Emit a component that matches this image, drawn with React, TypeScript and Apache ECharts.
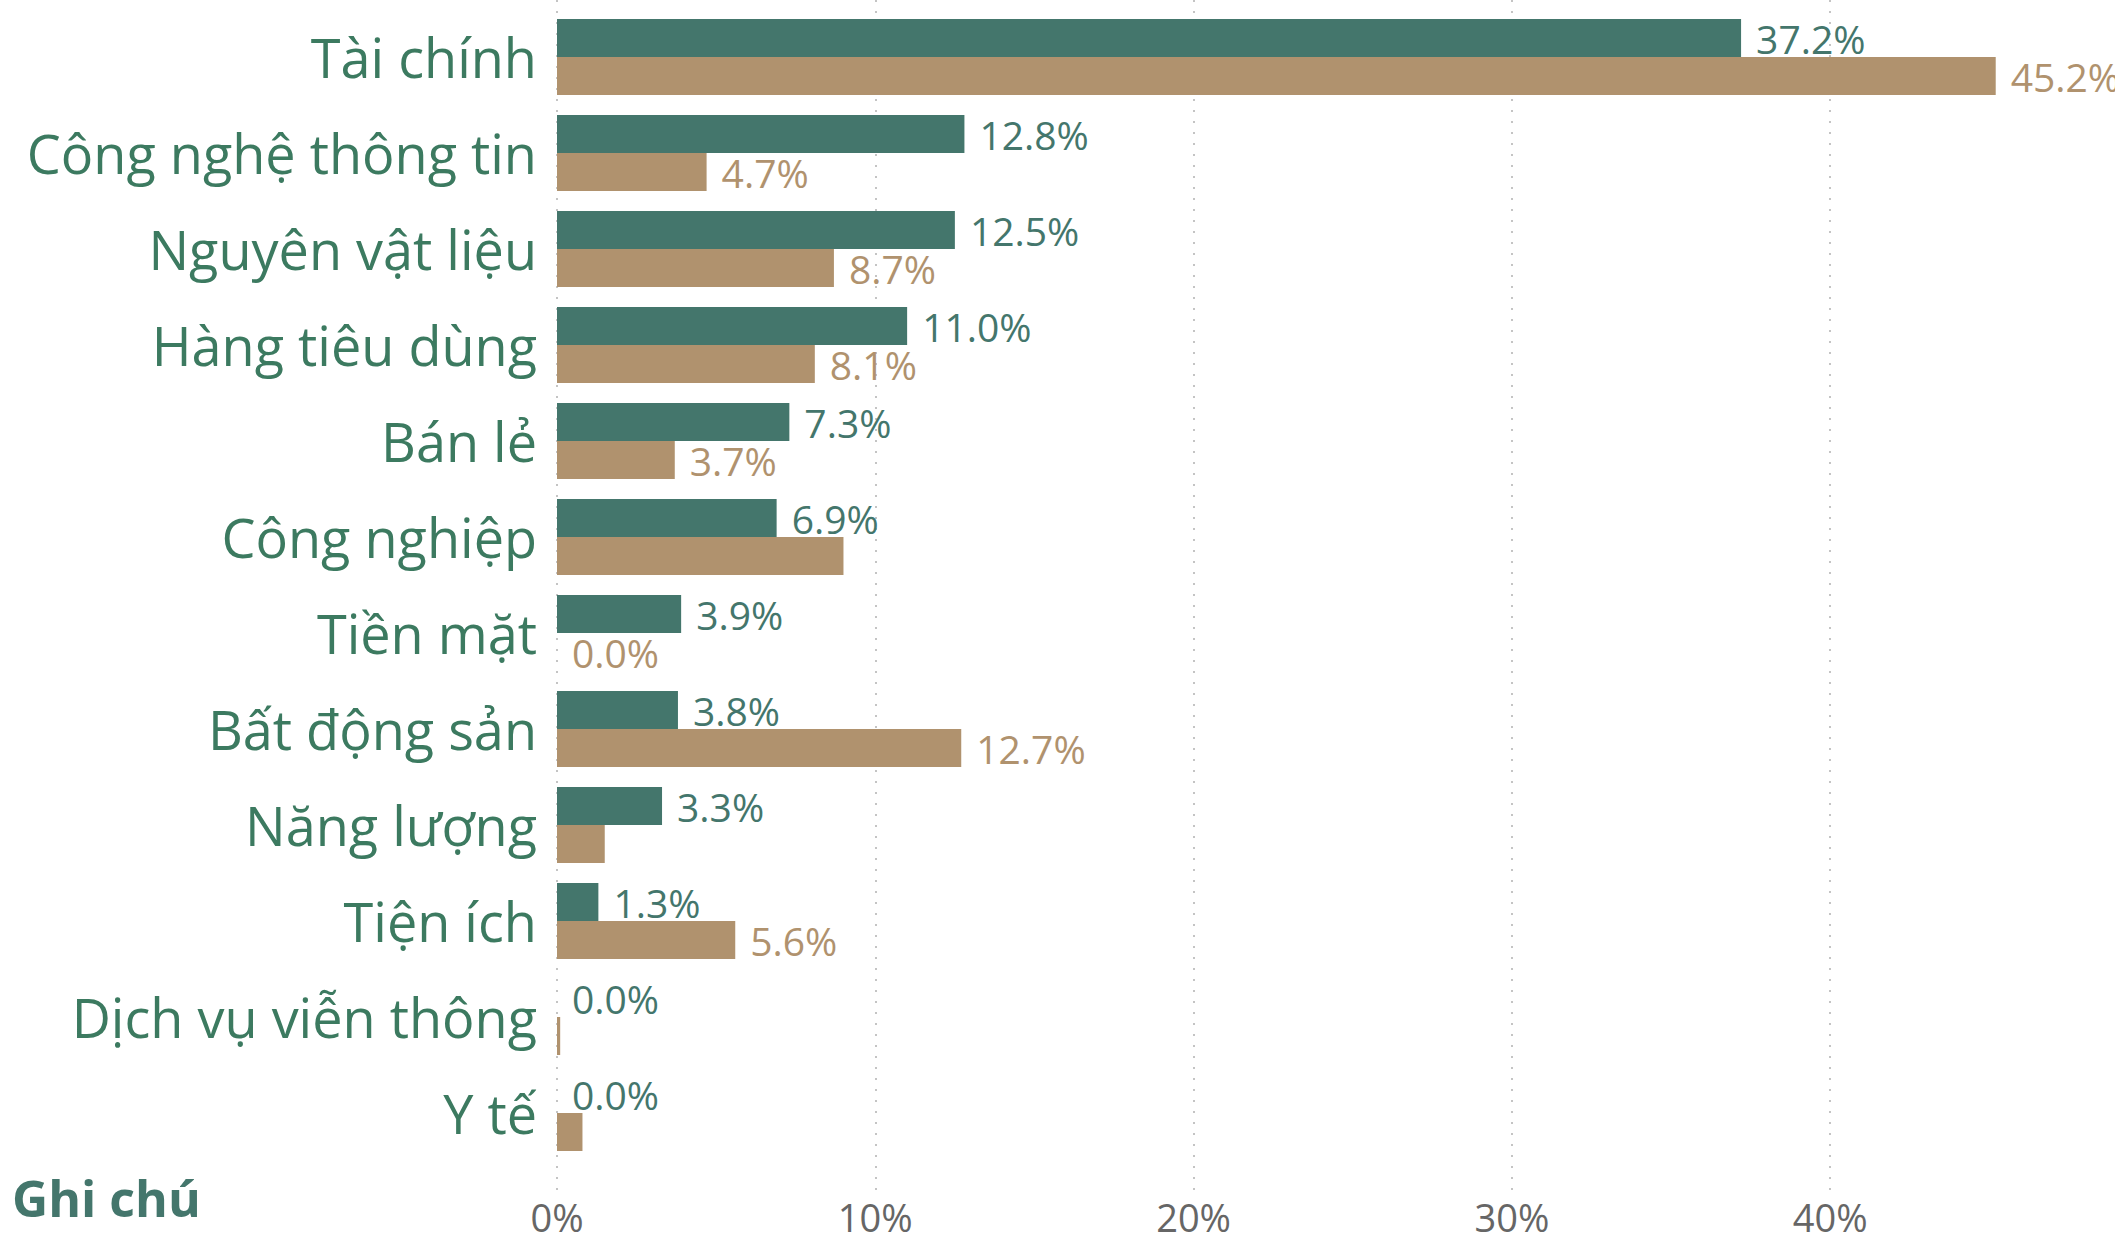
import React, { useEffect, useRef } from "react";
import * as echarts from "echarts";

const categories = [
  "Tài chính",
  "Công nghệ thông tin",
  "Nguyên vật liệu",
  "Hàng tiêu dùng",
  "Bán lẻ",
  "Công nghiệp",
  "Tiền mặt",
  "Bất động sản",
  "Năng lượng",
  "Tiện ích",
  "Dịch vụ viễn thông",
  "Y tế",
];
const seriesA = [37.2, 12.8, 12.5, 11.0, 7.3, 6.9, 3.9, 3.8, 3.3, 1.3, 0.0, 0.0];
const seriesB = [45.2, 4.7, 8.7, 8.1, 3.7, 9.0, 0.0, 12.7, 1.5, 5.6, 0.1, 0.8];
// labels that are not shown in the reference for the second series
const seriesBHiddenLabels = [5, 8, 10, 11];
const xTicks = [0, 10, 20, 30, 40, 50];
const legendTitle = "Ghi chú";

const GREEN = "#44766c";
const LABEL_GREEN = "#3c7a60";
const BROWN = "#b0926e";
const FONT = "'Open Sans', 'Noto Sans', sans-serif";

export default function App() {
  const ref = useRef<HTMLDivElement>(null);
  useEffect(() => {
    if (!ref.current) return;
    const chart = echarts.init(ref.current, undefined, { renderer: "svg" });
    const xMin = xTicks[0];
    const xMax = xTicks[xTicks.length - 1];
    const step = xTicks[1] - xTicks[0];
    const fmt = (v: number) => v.toFixed(1) + "%";
    chart.setOption({
      animation: false,
      textStyle: { fontFamily: FONT },
      grid: [
        { left: 557, right: 51.5, top: 9, bottom: 80 },
        { left: 557, right: 51.5, top: 0, bottom: 51 },
      ],
      xAxis: [
        {
          gridIndex: 0,
          type: "value",
          min: xMin,
          max: xMax,
          interval: step,
          axisLine: { show: false },
          axisTick: { show: false },
          axisLabel: { show: false },
          splitLine: { show: false },
        },
        {
          gridIndex: 1,
          type: "value",
          min: xMin,
          max: xMax,
          interval: step,
          axisLine: { show: false },
          axisTick: { show: false },
          axisLabel: {
            show: true,
            showMaxLabel: false,
            fontSize: 38,
            lineHeight: 38,
            color: "#666666",
            margin: 8,
            fontFamily: FONT,
            formatter: (v: number) => v + "%",
          },
          splitLine: {
            show: true,
            lineStyle: { color: "#c4c4c4", width: 2, type: [2, 9] },
          },
        },
      ],
      yAxis: [
        {
          gridIndex: 0,
          type: "category",
          data: categories,
          inverse: true,
          axisLine: { show: false },
          axisTick: { show: false },
          axisLabel: {
            fontSize: 54,
            color: LABEL_GREEN,
            margin: 20,
            fontFamily: FONT,
          },
          splitLine: { show: false },
        },
        {
          gridIndex: 1,
          type: "value",
          show: false,
          min: 0,
          max: 1,
        },
      ],
      series: [
        {
          type: "bar",
          xAxisIndex: 0,
          yAxisIndex: 0,
          data: seriesA,
          barWidth: 38,
          barGap: "0%",
          itemStyle: { color: GREEN },
          label: {
            show: true,
            position: "right",
            distance: 15,
            fontSize: 39,
            color: GREEN,
            fontFamily: FONT,
            formatter: (p: any) => fmt(p.value),
          },
        },
        {
          type: "bar",
          xAxisIndex: 0,
          yAxisIndex: 0,
          data: seriesB.map((v, i) =>
            seriesBHiddenLabels.includes(i) ? { value: v, label: { show: false } } : v
          ),
          barWidth: 38,
          barGap: "0%",
          itemStyle: { color: BROWN },
          label: {
            show: true,
            position: "right",
            distance: 15,
            fontSize: 39,
            color: BROWN,
            fontFamily: FONT,
            formatter: (p: any) => fmt(p.value),
          },
        },
      ],
      graphic: [
        {
          type: "text",
          left: 12,
          top: 1173,
          style: {
            text: legendTitle,
            fontSize: 50,
            fontWeight: "bold",
            fill: GREEN,
            fontFamily: FONT,
          },
        },
      ],
    });
    return () => chart.dispose();
  }, []);
  return (
    <div
      style={{
        position: "absolute",
        left: 0,
        top: 0,
        width: 2115,
        height: 1241,
        overflow: "hidden",
        background: "#ffffff",
      }}
    >
      <div ref={ref} style={{ width: 2200, height: 1241 }} />
    </div>
  );
}
